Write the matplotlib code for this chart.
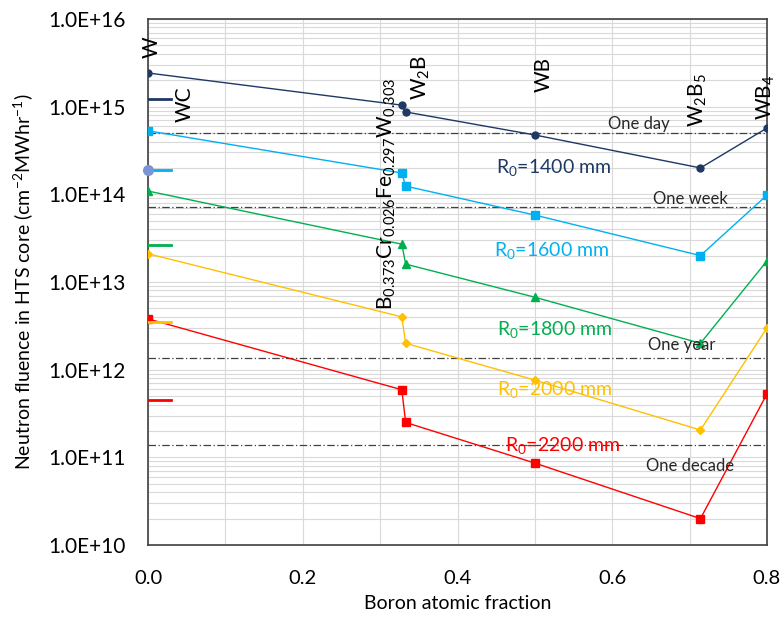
import numpy as np
import matplotlib
matplotlib.use("Agg")
import matplotlib.pyplot as plt
from matplotlib.ticker import LogLocator, FixedLocator, NullFormatter

plt.rcParams['font.family'] = ['Lato', 'DejaVu Sans']
plt.rcParams['mathtext.fontset'] = 'custom'
plt.rcParams['mathtext.rm'] = 'Lato'
plt.rcParams['mathtext.it'] = 'Lato:italic'
plt.rcParams['mathtext.bf'] = 'Lato:bold'

# boron atomic fraction of each composition
boron = [0.0, 0.328, 0.333, 0.5, 0.714, 0.8]

# fluence per MWhr for each inner radius
f1400 = [2.42e15, 1.04e15, 8.7e14, 4.75e14, 2.0e14, 5.7e14]
f1600 = [5.3e14, 1.75e14, 1.24e14, 5.8e13, 2.0e13, 9.8e13]
f1800 = [1.09e14, 2.7e13, 1.6e13, 6.7e12, 2.0e12, 1.74e13]
f2000 = [2.1e13, 4.0e12, 2.0e12, 7.6e11, 2.05e11, 3.0e12]
f2200 = [3.8e12, 5.9e11, 2.5e11, 8.6e10, 2.0e10, 5.3e11]

# WC values (short marks near x=0)
wc_x = [0.0, 0.03]
wc = [1.22e15, 1.9e14, 2.64e13, 3.5e12, 4.5e11]

# lifetime limits
limits = [5.0e14, 7.1e13, 1.37e12, 1.37e11]
limit_names = ['One day', 'One week', 'One year', 'One decade']

radii = ['1400', '1600', '1800', '2000', '2200']
colors = ['#1F3864', '#00B0F0', '#00B050', '#FFC000', '#FF0000']
markers = ['o', 's', '^', 'D', 's']
msizes = [5, 6, 5.5, 4.5, 6]
series = [f1400, f1600, f1800, f2000, f2200]

fig = plt.figure(figsize=(7.84, 6.18), dpi=100)
ax = fig.add_axes([0.1888, 0.1181, 0.7895, 0.8512])

ax.set_yscale('log')
ax.set_ylim(1e10, 1e16)
ax.set_xlim(0, 0.8)

ax.xaxis.set_major_locator(FixedLocator([0.0, 0.2, 0.4, 0.6, 0.8]))
ax.xaxis.set_minor_locator(FixedLocator([0.1, 0.3, 0.5, 0.7]))
ax.yaxis.set_major_locator(LogLocator(base=10, numticks=10))
ax.yaxis.set_minor_locator(LogLocator(base=10, subs=np.arange(2, 10), numticks=20))
ax.yaxis.set_minor_formatter(NullFormatter())
ax.yaxis.set_major_formatter(plt.FuncFormatter(lambda v, p: '1.0E+%d' % round(np.log10(v))))
ax.set_xticklabels(['0.0', '0.2', '0.4', '0.6', '0.8'])

ax.grid(True, which='both', axis='both', color='#D9D9D9', linewidth=0.8)
ax.set_axisbelow(True)
ax.tick_params(which='both', length=0)
ax.tick_params(axis='y', pad=16, labelsize=15)
ax.tick_params(axis='x', pad=18, labelsize=14.5)

for s in ax.spines.values():
    s.set_color('#404040')
    s.set_linewidth(1.2)

for vals, c, m, ms in zip(series, colors, markers, msizes):
    ax.plot(boron, vals, color=c, marker=m, markersize=ms, linewidth=1.0, zorder=3)

for v, c in zip(wc, colors):
    ax.plot(wc_x, [v, v], color=c, linewidth=2, zorder=3)
ax.plot([0.0], [wc[1]], marker='o', color='#7A95D6', markersize=7, zorder=4, clip_on=False)

for lim in limits:
    ax.plot([0, 0.8], [lim, lim], color='#404040', linestyle=(0, (6, 2, 1, 2)), linewidth=0.9, zorder=2)

# compound labels
lbl_kw = dict(rotation=90, ha='center', va='bottom', fontsize=15, color='black')
ax.text(0.005, 3.6e15, 'W', **lbl_kw)
ax.text(0.048, 6.7e14, 'WC', **lbl_kw)
ax.text(0.309, 4.8e12, r'B$_{\mathrm{0.373}}$Cr$_{\mathrm{0.026}}$Fe$_{\mathrm{0.297}}$W$_{\mathrm{0.303}}$', **lbl_kw)
ax.text(0.353, 1.19e15, r'W$_{\mathrm{2}}$B', **lbl_kw)
ax.text(0.511, 1.47e15, 'WB', **lbl_kw)
ax.text(0.711, 5.86e14, r'W$_{\mathrm{2}}$B$_{\mathrm{5}}$', **lbl_kw)
ax.text(0.799, 7.0e14, r'WB$_{\mathrm{4}}$', **lbl_kw)

# radius labels
r_pos = [(0.45, 2.0e14), (0.447, 2.3e13), (0.451, 2.84e12), (0.451, 6.0e11), (0.461, 1.38e11)]
for r, c, (px, py) in zip(radii, colors, r_pos):
    ax.text(px, py, r'R$_{\mathrm{0}}$=' + r + ' mm', color=c, fontsize=14, ha='left', va='center')

# limit labels
l_pos = [(0.594, 6.3e14), (0.653, 8.9e13), (0.646, 1.9e12), (0.644, 7.9e10)]
for name, (px, py) in zip(limit_names, l_pos):
    ax.text(px, py, name, color='#262626', fontsize=12, ha='left', va='center')

ax.set_xlabel('Boron atomic fraction', fontsize=14, labelpad=6)
ax.set_ylabel(r'Neutron fluence in HTS core (cm$^{\mathrm{-2}}$MWhr$^{\mathrm{-1}}$)', fontsize=14, labelpad=10)

fig.savefig('out.png', dpi=100)
